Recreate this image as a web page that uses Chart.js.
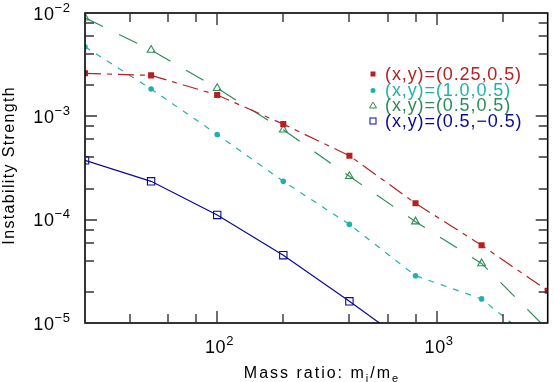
<!DOCTYPE html>
<html>
<head>
<meta charset="utf-8">
<script src="https://cdn.jsdelivr.net/npm/chart.js@4.4.1/dist/chart.umd.min.js"></script>
<style>
  html, body { margin: 0; padding: 0; background: #fff; }
  #wrap { position: relative; width: 554px; height: 382px; }
</style>
</head>
<body>
<div id="wrap"><canvas id="chart"></canvas></div>
<script>
// Отношение масс m_i/m_e
const massRatio = [25, 50, 100, 200, 400, 800, 1600, 3200];

// Сила неустойчивости для каждой пары (x,y)
const strengthA = [2.61e-3, 2.49e-3, 1.61e-3, 8.4e-4, 4.16e-4, 1.44e-4, 5.65e-5, 2.05e-5]; // (0.25,0.5)
const strengthB = [4.71e-3, 1.84e-3, 6.68e-4, 2.35e-4, 9.0e-5, 2.87e-5, 1.71e-5, 5.2e-6];  // (1.0,0.5)
const strengthC = [9.0e-3, 4.38e-3, 1.87e-3, 7.41e-4, 2.63e-4, 9.57e-5, 3.77e-5, 8.6e-6];  // (0.5,0.5)
const strengthD = [3.75e-4, 2.35e-4, 1.11e-4, 4.53e-5, 1.62e-5, 5.6e-6, null, null];      // (0.5,-0.5)

const seriesLabels = ['(x,y)=(0.25,0.5)', '(x,y)=(1.0,0.5)', '(x,y)=(0.5,0.5)', '(x,y)=(0.5,\u22120.5)'];
const seriesColors = ['#b22222', '#20b2aa', '#2e8b57', '#0a0a96'];

// Деления осей
const xMajorTicks = [100, 1000];
const xTickExponents = ['2', '3'];
const xMinorTicks = [40, 60, 80, 200, 400, 600, 800, 2000];
const yMajorTicks = [1e-2, 1e-3, 1e-4, 1e-5];
const yTickExponents = ['\u22122', '\u22123', '\u22124', '\u22125'];
const yMinorTicks = [2e-5, 4e-5, 6e-5, 8e-5, 2e-4, 4e-4, 6e-4, 8e-4, 2e-3, 4e-3, 6e-3, 8e-3];

const FONT = "'Liberation Sans', Arial, sans-serif";

function toPoints(values) {
    return massRatio
        .map((x, i) => ({ x: x, y: values[i] }))
        .filter(p => p.y !== null);
}

// Ширина текста с разрядкой (letterSpacing в canvas может не работать)
function spacedWidth(ctx, text, sp) {
    let w = 0;
    for (const ch of text) w += ctx.measureText(ch).width + sp;
    return w - sp;
}

function drawSpaced(ctx, text, x, y, sp) {
    let cx = x;
    for (const ch of text) {
        ctx.fillText(ch, cx, y);
        cx += ctx.measureText(ch).width + sp;
    }
}

// Текст со смещённой частью (степень или индекс)
function drawParts(ctx, parts, x, y, align, sp) {
    let total = 0;
    parts.forEach((p, i) => {
        ctx.font = p.size + 'px ' + FONT;
        p.w = spacedWidth(ctx, p.text, sp) + (i < parts.length - 1 ? sp : 0);
        total += p.w;
    });
    let cx = align === 'right' ? x - total : align === 'center' ? x - total / 2 : x;
    ctx.textAlign = 'left';
    parts.forEach(p => {
        ctx.font = p.size + 'px ' + FONT;
        drawSpaced(ctx, p.text, cx, y + (p.dy || 0), sp);
        cx += p.w;
    });
}

const axesPlugin = {
    id: 'axesPlugin',
    afterDraw(chart) {
        const ctx = chart.ctx;
        const a = chart.chartArea;
        const xs = chart.scales.x;
        const ys = chart.scales.y;
        ctx.save();

        // Рамка
        ctx.strokeStyle = '#000';
        ctx.lineWidth = 1.6;
        ctx.strokeRect(a.left, a.top, a.right - a.left, a.bottom - a.top);

        // Деления внутрь на всех четырёх сторонах
        ctx.strokeStyle = '#333';
        ctx.lineWidth = 1.4;
        ctx.beginPath();
        const xTick = (v, len) => {
            const px = Math.round(xs.getPixelForValue(v));
            ctx.moveTo(px, a.bottom); ctx.lineTo(px, a.bottom - len);
            ctx.moveTo(px, a.top); ctx.lineTo(px, a.top + len);
        };
        const yTick = (v, len) => {
            const py = Math.round(ys.getPixelForValue(v));
            ctx.moveTo(a.left, py); ctx.lineTo(a.left + len, py);
            ctx.moveTo(a.right, py); ctx.lineTo(a.right - len, py);
        };
        xMajorTicks.forEach(v => xTick(v, 12));
        xMinorTicks.forEach(v => xTick(v, 9));
        yMajorTicks.forEach(v => yTick(v, 12));
        yMinorTicks.forEach(v => yTick(v, 9));
        ctx.stroke();

        // Подписи делений
        ctx.fillStyle = '#000';
        ctx.textBaseline = 'alphabetic';
        yMajorTicks.forEach((v, i) => {
            const py = ys.getPixelForValue(v);
            drawParts(ctx, [
                { text: '10', size: 18 },
                { text: yTickExponents[i], size: 13, dy: -8 }
            ], 70, py + 6.5, 'right', 0.6);
        });
        xMajorTicks.forEach((v, i) => {
            const px = xs.getPixelForValue(v);
            drawParts(ctx, [
                { text: '10', size: 18 },
                { text: xTickExponents[i], size: 13, dy: -8 }
            ], px + 2, 353, 'center', 0.6);
        });

        // Подписи осей
        drawParts(ctx, [
            { text: 'Mass ratio: m', size: 16 },
            { text: 'i', size: 11, dy: 4 },
            { text: '/m', size: 16 },
            { text: 'e', size: 11, dy: 4 }
        ], 321, 378, 'center', 2);

        ctx.save();
        ctx.translate(13.5, 166);
        ctx.rotate(-Math.PI / 2);
        ctx.font = '16px ' + FONT;
        ctx.textAlign = 'left';
        const yTitle = 'Instability Strength';
        const tw = spacedWidth(ctx, yTitle, 1.35);
        drawSpaced(ctx, yTitle, -tw / 2, 0, 1.35);
        ctx.restore();

        // Легенда
        const rows = [74, 90.5, 105.5, 121];
        ctx.font = '18px ' + FONT;
        ctx.textAlign = 'left';
        rows.forEach((ry, i) => {
            const c = seriesColors[i];
            ctx.fillStyle = c;
            ctx.strokeStyle = c;
            ctx.lineWidth = 1;
            const mx = 373;
            ctx.beginPath();
            if (i === 0) {
                ctx.fillRect(mx - 2.5, ry - 2.5, 5, 5);
            } else if (i === 1) {
                ctx.arc(mx, ry, 2.5, 0, Math.PI * 2);
                ctx.fill();
            } else if (i === 2) {
                ctx.moveTo(mx, ry - 3.5);
                ctx.lineTo(mx + 3.5, ry + 2.5);
                ctx.lineTo(mx - 3.5, ry + 2.5);
                ctx.closePath();
                ctx.stroke();
            } else {
                ctx.strokeRect(mx - 3, ry - 3, 6, 6);
            }
            drawSpaced(ctx, seriesLabels[i], 385, ry + 5.5, 0.9);
        });

        ctx.restore();
    }
};

const datasets = [
    {
        data: toPoints(strengthA),
        borderColor: seriesColors[0],
        backgroundColor: seriesColors[0],
        borderDash: [16, 6, 5, 6],
        pointStyle: 'rect',
        pointRadius: 4.3,
        pointBorderWidth: 0
    },
    {
        data: toPoints(strengthB),
        borderColor: seriesColors[1],
        backgroundColor: seriesColors[1],
        borderDash: [6, 7],
        pointStyle: 'circle',
        pointRadius: 2.8,
        pointBorderWidth: 0
    },
    {
        data: toPoints(strengthC),
        borderColor: seriesColors[2],
        backgroundColor: 'rgba(0,0,0,0)',
        borderDash: [20, 18],
        pointStyle: 'triangle',
        pointRadius: 4.5,
        pointBorderWidth: 1.1
    },
    {
        data: toPoints(strengthD),
        borderColor: seriesColors[3],
        backgroundColor: 'rgba(0,0,0,0)',
        borderDash: [],
        pointStyle: 'rect',
        pointRadius: 5.2,
        pointBorderWidth: 1.1
    }
].map(ds => Object.assign({
    borderWidth: 1.2,
    tension: 0,
    fill: false,
    clip: 0
}, ds));

new Chart(document.getElementById('chart'), {
    type: 'line',
    data: { datasets: datasets },
    options: {
        responsive: true,
        maintainAspectRatio: false,
        animation: false,
        devicePixelRatio: 1,
        layout: { padding: { left: 85, top: 13, right: 1, bottom: 59 } },
        plugins: {
            legend: { display: false },
            tooltip: { enabled: false }
        },
        scales: {
            x: { type: 'logarithmic', min: 25, max: 3200, display: false },
            y: { type: 'logarithmic', min: 1e-5, max: 1e-2, display: false }
        }
    },
    plugins: [axesPlugin]
});
</script>
</body>
</html>
